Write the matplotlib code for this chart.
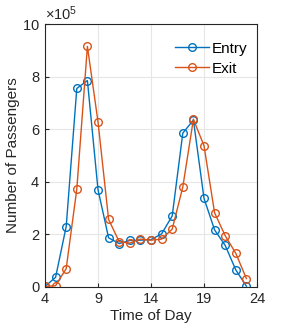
import matplotlib.pyplot as plt
from matplotlib.ticker import ScalarFormatter

plt.rcParams['font.family'] = ['Liberation Sans', 'DejaVu Sans']
plt.rcParams['mathtext.fontset'] = 'custom'
plt.rcParams['mathtext.rm'] = 'Liberation Sans'

hours = list(range(4, 24))
entry = [0.02, 0.37, 2.30, 7.55, 7.85, 3.70, 1.87, 1.65, 1.77, 1.78,
         1.80, 2.02, 2.70, 5.85, 6.35, 3.37, 2.17, 1.58, 0.65, 0.03]
exit_ = [0.02, 0.05, 0.70, 3.72, 9.15, 6.28, 2.57, 1.72, 1.67, 1.82,
         1.78, 1.82, 2.20, 3.80, 6.38, 5.37, 2.82, 1.95, 1.28, 0.32]
entry = [v * 1e5 for v in entry]
exit_ = [v * 1e5 for v in exit_]

fig = plt.figure(figsize=(2.84, 3.33), dpi=100)
ax = fig.add_axes([45/284, 1 - 287/333, 212/284, 263/333])

ax.plot(hours, entry, '-o', color='#0072BD', lw=1.0, ms=5.5, mfc='none', mew=1.0, label='Entry')
ax.plot(hours, exit_, '-o', color='#D95319', lw=1.0, ms=5.5, mfc='none', mew=1.0, label='Exit')

ax.set_xlim(4, 24)
ax.set_ylim(0, 1e6)
ax.set_xticks([4, 9, 14, 19, 24])
ax.set_yticks([0, 2e5, 4e5, 6e5, 8e5, 10e5])
fmt = ScalarFormatter(useMathText=True)
fmt.set_powerlimits((5, 5))
ax.yaxis.set_major_formatter(fmt)
ax.yaxis.get_offset_text().set_fontsize(10.5)
ax.yaxis.get_offset_text().set_color('#262626')

ax.grid(True, color='#e6e6e6', lw=0.8)
ax.set_axisbelow(True)
for s in ax.spines.values():
    s.set_color('#262626')
    s.set_linewidth(0.8)
ax.tick_params(labelsize=10.5, colors='#262626', direction='in', length=3)

ax.set_xlabel('Time of Day', fontsize=11, color='#262626', labelpad=2)
ax.set_ylabel('Number of Passengers', fontsize=11, color='#262626', labelpad=2)
ax.legend(loc='upper right', bbox_to_anchor=(1.02, 0.985), frameon=False, fontsize=11,
          handlelength=2.2, handletextpad=0.2, labelspacing=0.4)

plt.savefig('out.png', dpi=100)
